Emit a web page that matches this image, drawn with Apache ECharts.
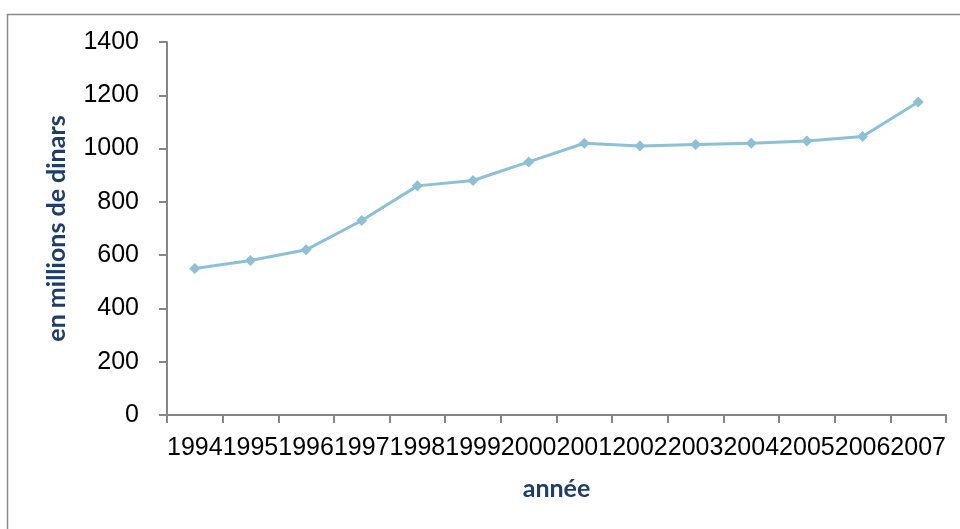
<!DOCTYPE html>
<html>
<head>
<meta charset="utf-8">
<script src="https://cdn.jsdelivr.net/npm/echarts@6/dist/echarts.min.js"></script>
<style>
html,body{margin:0;padding:0;background:#fff;}
#c{width:960px;height:529px;}
</style>
</head>
<body>
<div id="c"></div>
<script>
const years = ['1994','1995','1996','1997','1998','1999','2000','2001','2002','2003','2004','2005','2006','2007'];
const values = [550, 580, 620, 730, 860, 880, 950, 1020, 1010, 1015, 1020, 1028, 1045, 1175];
const yTicks = [0, 200, 400, 600, 800, 1000, 1200, 1400];
const yTitle = 'en millions de dinars';
const xTitle = 'année';

const chart = echarts.init(document.getElementById('c'));
chart.setOption({
  animation: false,
  graphic: [{
    type: 'rect', left: 5, top: 12,
    shape: {width: 1000, height: 600},
    style: {fill: 'none', stroke: '#8a8a8a', lineWidth: 1.5},
    silent: true
  }],
  grid: {left: 167, right: 14, top: 42, bottom: 114},
  xAxis: {
    type: 'category',
    data: years,
    boundaryGap: true,
    axisLine: {lineStyle: {color: '#868686', width: 2}},
    axisTick: {show: true, length: 8, lineStyle: {color: '#868686', width: 2}},
    axisLabel: {color: '#000', fontFamily: 'Liberation Sans, Arial', fontSize: 25, margin: 21, interval: 0},
    name: xTitle,
    nameLocation: 'middle',
    nameGap: 61,
    nameTextStyle: {color: '#1f3d6b', fontFamily: 'Lato, Open Sans', fontWeight: 'bold', fontSize: 25}
  },
  yAxis: {
    type: 'value',
    min: yTicks[0], max: yTicks[yTicks.length - 1], interval: 200,
    axisLine: {show: true, lineStyle: {color: '#868686', width: 2}},
    axisTick: {show: true, length: 8, lineStyle: {color: '#868686', width: 2}},
    splitLine: {show: false},
    axisLabel: {color: '#000', fontFamily: 'Liberation Sans, Arial', fontSize: 25, margin: 28,
      formatter: v => String(v)},
    name: yTitle,
    nameLocation: 'middle',
    nameGap: 98,
    nameRotate: 90,
    nameTextStyle: {color: '#1f3d6b', fontFamily: 'Lato, Open Sans', fontWeight: 'bold', fontSize: 25}
  },
  series: [{
    type: 'line',
    data: values,
    symbol: 'diamond',
    symbolSize: 11,
    lineStyle: {color: '#8dc0d4', width: 3},
    itemStyle: {color: '#8dc0d4'}
  }]
});
</script>
</body>
</html>
